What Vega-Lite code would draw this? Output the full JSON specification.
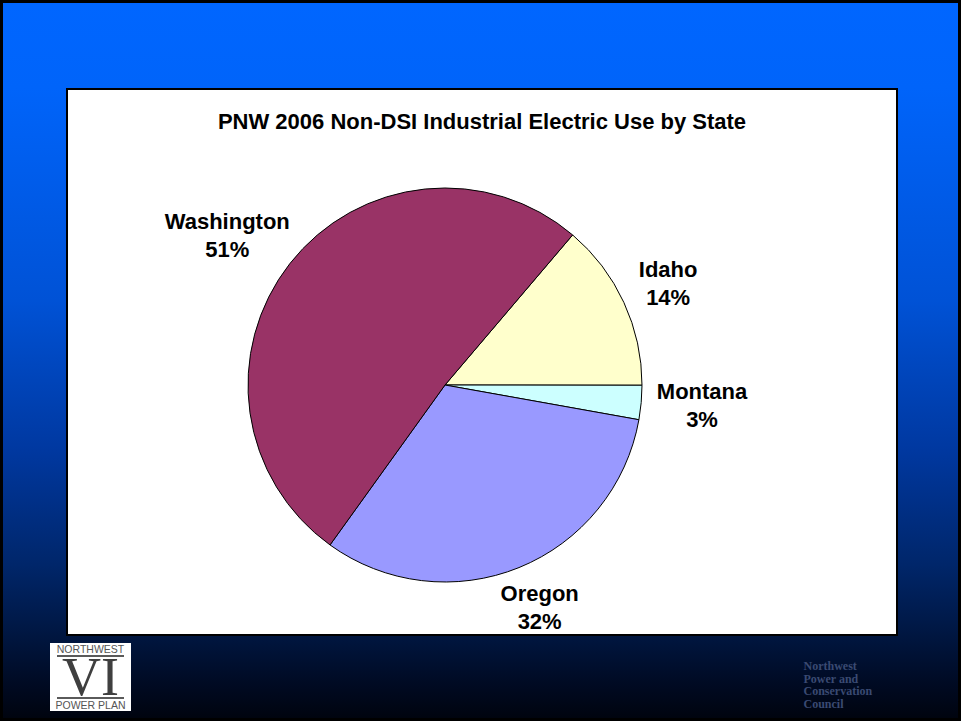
{
  "$schema": "https://vega.github.io/schema/vega-lite/v6.json",
  "background": "black",
  "padding": 3,
  "config": {
    "view": {"stroke": null},
    "concat": {"spacing": 0},
    "font": "Liberation Sans"
  },
  "datasets": {
    "pnw": [
      {"state": "Idaho", "value": 13.8, "pct": 14},
      {"state": "Montana", "value": 2.8, "pct": 3},
      {"state": "Oregon", "value": 32.1, "pct": 32},
      {"state": "Washington", "value": 51.3, "pct": 51}
    ],
    "none": [],
    "heading": [{"title": "PNW 2006 Non-DSI Industrial Electric Use by State"}],
    "logoTop": [{"t": "NORTHWEST"}],
    "logoMid": [{"t": "VI"}],
    "logoBottom": [{"t": "POWER PLAN"}],
    "council": [{"t": "Northwest\n\u00a0\u00a0\u00a0Power and\n\u00a0\u00a0\u00a0Conservation\nCouncil"}]
  },
  "spacing": 0,
  "vconcat": [
    {
      "width": 955, "height": 85,
      "data": {"name": "none"},
      "mark": "point", "encoding": {},
      "view": {"fill": {"gradient": "linear", "x1": 0, "y1": 0, "x2": 0, "y2": 1,
        "stops": [{"offset": 0, "color": "#0066ff"}, {"offset": 1, "color": "#0064fa"}]}}
    },
    {
      "spacing": 0,
      "hconcat": [
        {
          "width": 63, "height": 548,
          "data": {"name": "none"},
          "mark": "point", "encoding": {},
          "view": {"fill": {"gradient": "linear", "x1": 0, "y1": 0, "x2": 0, "y2": 1,
            "stops": [
              {"offset": 0, "color": "#0064fa"},
              {"offset": 0.387, "color": "#0052d6"},
              {"offset": 0.661, "color": "#0038a0"},
              {"offset": 0.87, "color": "#00266a"},
              {"offset": 1, "color": "#001640"}
            ]}}
        },
        {
          "spacing": 0,
          "vconcat": [
            {
              "width": 832, "height": 2,
              "data": {"name": "none"},
              "mark": "point", "encoding": {},
              "view": {"fill": "black"}
            },
            {
              "spacing": 0,
              "hconcat": [
                {
                  "width": 2, "height": 544,
                  "data": {"name": "none"},
                  "mark": "point", "encoding": {},
                  "view": {"fill": "black"}
                },
                {
                  "spacing": 0,
                  "vconcat": [
                    {
                      "width": 828, "height": 46,
                      "data": {"name": "heading"},
                      "mark": {"type": "text", "fontSize": 22, "fontWeight": "bold", "color": "black", "dy": 9, "clip": true},
                      "encoding": {"text": {"field": "title", "type": "nominal"}},
                      "view": {"fill": "white"}
                    },
                    {
                      "spacing": 0,
                      "hconcat": [
                        {
                          "width": 754, "height": 498,
                          "data": {"name": "pnw"},
                          "view": {"fill": "white"},
                          "layer": [
                            {
                              "mark": {"type": "arc", "radius": 197, "stroke": "black", "strokeWidth": 1},
                              "encoding": {
                                "theta": {"field": "value", "type": "quantitative", "stack": true,
                                  "scale": {"range": [0.705, 6.988]}},
                                "color": {"field": "state", "type": "nominal",
                                  "scale": {"domain": ["Idaho", "Montana", "Oregon", "Washington"],
                                    "range": ["#ffffcc", "#ccffff", "#9999ff", "#993366"]},
                                  "legend": null}
                              }
                            },
                            {
                              "transform": [{"calculate": "datum.state + '\\n' + datum.pct + '%'", "as": "label"}],
                              "mark": {"type": "text", "radius": 215, "fontSize": 22, "fontWeight": "bold",
                                "color": "black", "lineBreak": "\n", "lineHeight": 28,
                                "dx": {"expr": "6.15 * length(datum.state) * sin(0.705 + PI * (datum.value_start + datum.value_end) / 100)"},
                                "dy": {"expr": "-14 - 26 * cos(0.705 + PI * (datum.value_start + datum.value_end) / 100)"}},
                              "encoding": {
                                "theta": {"field": "value", "type": "quantitative", "stack": true},
                                "detail": {"field": "state", "type": "nominal"},
                                "text": {"field": "label", "type": "nominal"}
                              }
                            }
                          ]
                        },
                        {
                          "width": 74, "height": 498,
                          "data": {"name": "none"},
                          "mark": "point", "encoding": {},
                          "view": {"fill": "white"}
                        }
                      ]
                    }
                  ]
                },
                {
                  "width": 2, "height": 544,
                  "data": {"name": "none"},
                  "mark": "point", "encoding": {},
                  "view": {"fill": "black"}
                }
              ]
            },
            {
              "width": 832, "height": 2,
              "data": {"name": "none"},
              "mark": "point", "encoding": {},
              "view": {"fill": "black"}
            }
          ]
        },
        {
          "width": 60, "height": 548,
          "data": {"name": "none"},
          "mark": "point", "encoding": {},
          "view": {"fill": {"gradient": "linear", "x1": 0, "y1": 0, "x2": 0, "y2": 1,
            "stops": [
              {"offset": 0, "color": "#0064fa"},
              {"offset": 0.387, "color": "#0052d6"},
              {"offset": 0.661, "color": "#0038a0"},
              {"offset": 0.87, "color": "#00266a"},
              {"offset": 1, "color": "#001640"}
            ]}}
        }
      ]
    },
    {
      "spacing": 0,
      "hconcat": [
        {
          "width": 47, "height": 82,
          "data": {"name": "none"},
          "mark": "point", "encoding": {},
          "view": {"fill": {"gradient": "linear", "x1": 0, "y1": 0, "x2": 0, "y2": 1,
            "stops": [{"offset": 0, "color": "#001640"}, {"offset": 0.6, "color": "#000a22"}, {"offset": 1, "color": "#00040f"}]}}
        },
        {
          "spacing": 0,
          "vconcat": [
            {
              "width": 81, "height": 7,
              "data": {"name": "none"},
              "mark": "point", "encoding": {},
              "view": {"fill": {"gradient": "linear", "x1": 0, "y1": 0, "x2": 0, "y2": 1,
                "stops": [{"offset": 0, "color": "#001640"}, {"offset": 1, "color": "#00143c"}]}}
            },
            {
              "width": 81, "height": 12,
              "data": {"name": "logoTop"},
              "mark": {"type": "text", "fontSize": 10.5, "color": "#555555", "dy": 1, "clip": true},
              "encoding": {"text": {"field": "t", "type": "nominal"}},
              "view": {"fill": "white"}
            },
            {
              "spacing": 0,
              "hconcat": [
                {"width": 7, "height": 2, "data": {"name": "none"}, "mark": "point", "encoding": {}, "view": {"fill": "white"}},
                {"width": 67, "height": 2, "data": {"name": "none"}, "mark": "point", "encoding": {}, "view": {"fill": "#5a5a5a"}},
                {"width": 7, "height": 2, "data": {"name": "none"}, "mark": "point", "encoding": {}, "view": {"fill": "white"}}
              ]
            },
            {
              "width": 81, "height": 40,
              "data": {"name": "logoMid"},
              "mark": {"type": "text", "fontSize": 54, "font": "Liberation Serif", "color": "#3f3f3f", "dy": 2, "clip": true},
              "encoding": {"text": {"field": "t", "type": "nominal"}},
              "view": {"fill": "white"}
            },
            {
              "spacing": 0,
              "hconcat": [
                {"width": 7, "height": 2, "data": {"name": "none"}, "mark": "point", "encoding": {}, "view": {"fill": "white"}},
                {"width": 67, "height": 2, "data": {"name": "none"}, "mark": "point", "encoding": {}, "view": {"fill": "#5a5a5a"}},
                {"width": 7, "height": 2, "data": {"name": "none"}, "mark": "point", "encoding": {}, "view": {"fill": "white"}}
              ]
            },
            {
              "width": 81, "height": 12,
              "data": {"name": "logoBottom"},
              "mark": {"type": "text", "fontSize": 10.5, "color": "#555555", "dy": 1, "clip": true},
              "encoding": {"text": {"field": "t", "type": "nominal"}},
              "view": {"fill": "white"}
            },
            {
              "width": 81, "height": 7,
              "data": {"name": "none"},
              "mark": "point", "encoding": {},
              "view": {"fill": {"gradient": "linear", "x1": 0, "y1": 0, "x2": 0, "y2": 1,
                "stops": [{"offset": 0, "color": "#000513"}, {"offset": 1, "color": "#00040f"}]}}
            }
          ]
        },
        {
          "width": 667, "height": 82,
          "data": {"name": "none"},
          "mark": "point", "encoding": {},
          "view": {"fill": {"gradient": "linear", "x1": 0, "y1": 0, "x2": 0, "y2": 1,
            "stops": [{"offset": 0, "color": "#001640"}, {"offset": 0.6, "color": "#000a22"}, {"offset": 1, "color": "#00040f"}]}}
        },
        {
          "width": 95, "height": 82,
          "data": {"name": "council"},
          "mark": {"type": "text", "fontSize": 12, "font": "Liberation Serif", "fontWeight": "bold",
            "color": "#3a4a72", "align": "left", "dx": -42, "dy": -11, "lineBreak": "\n", "lineHeight": 12.5, "clip": true},
          "encoding": {"text": {"field": "t", "type": "nominal"}},
          "view": {"fill": {"gradient": "linear", "x1": 0, "y1": 0, "x2": 0, "y2": 1,
            "stops": [{"offset": 0, "color": "#001640"}, {"offset": 0.6, "color": "#000a22"}, {"offset": 1, "color": "#00040f"}]}}
        },
        {
          "width": 65, "height": 82,
          "data": {"name": "none"},
          "mark": "point", "encoding": {},
          "view": {"fill": {"gradient": "linear", "x1": 0, "y1": 0, "x2": 0, "y2": 1,
            "stops": [{"offset": 0, "color": "#001640"}, {"offset": 0.6, "color": "#000a22"}, {"offset": 1, "color": "#00040f"}]}}
        }
      ]
    }
  ]
}
